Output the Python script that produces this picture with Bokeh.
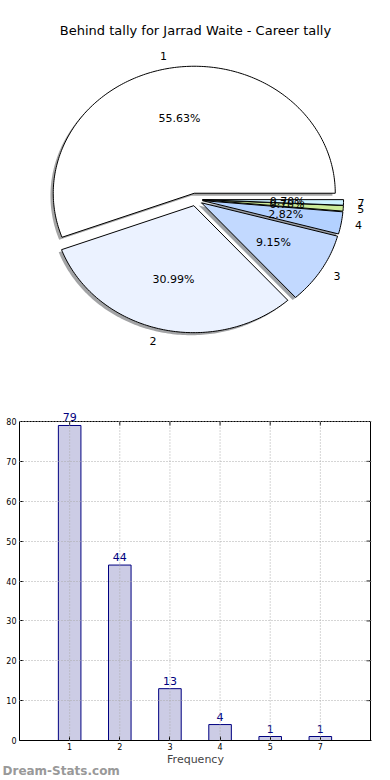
import numpy as np
from bokeh.plotting import figure
from bokeh.models import Range1d, FixedTicker, ColumnDataSource, LabelSet, Title
from bokeh.layouts import column
from bokeh.embed import file_html
from bokeh.resources import INLINE
from bokeh.core.properties import value

# ---------------- data ----------------
chart_title = "Behind tally for Jarrad Waite - Career tally"
freq_labels = ["1", "2", "3", "4", "5", "7"]
counts = [79, 44, 13, 4, 1, 1]
slice_colors = ["#FFFFFF", "#EBF2FF", "#C2D9FF", "#B3D1FF", "#CCEB99", "#CCF2FF"]
bar_fill = "#CCCCE5"
bar_line = "#000080"
y_ticks = [0, 10, 20, 30, 40, 50, 60, 70, 80]
watermark = "Dream-Stats.com"

FONT = "DejaVu Sans"

# shared horizontal geometry (column aligns the two frames)
LEFT, FRAME_W, RIGHT = 19, 352, 19

# ---------------- pie ----------------
cnt = np.array(counts, dtype=float)
frac = cnt / cnt.sum()
ends = np.cumsum(frac) * 2 * np.pi
starts = ends - frac * 2 * np.pi
mids = (starts + ends) / 2
explode = 0.05
sh_dx, sh_dy = -0.02, -0.02

wx, wy = [], []
for s, e, m in zip(starts, ends, mids):
    cx, cy = explode * np.cos(m), explode * np.sin(m)
    n = max(int(np.degrees(e - s)), 2) + 1
    t = np.linspace(s, e, n)
    wx.append(list(np.concatenate([[cx], cx + np.cos(t), [cx]])))
    wy.append(list(np.concatenate([[cy], cy + np.sin(t), [cy]])))


def shade(c):
    c = c.lstrip("#")
    r, g, b = (int(c[i:i + 2], 16) for i in (0, 2, 4))
    return "#%02x%02x%02x" % (int(r * 0.3), int(g * 0.3), int(b * 0.3))


RX, RY, CX, CY, PIE_H = 141.0, 127.0, 195.0, 199.0, 388
p1 = figure(frame_width=FRAME_W, frame_height=PIE_H,
            x_range=Range1d((LEFT - CX) / RX, (LEFT + FRAME_W - CX) / RX),
            y_range=Range1d(-(PIE_H - CY) / RY, CY / RY),
            x_axis_type=None, y_axis_type=None,
            toolbar_location=None, output_backend="svg",
            min_border_left=LEFT, min_border_right=RIGHT, min_border_top=0, min_border_bottom=0,
            outline_line_color=None)

p1.patches(xs=[[x + sh_dx for x in xx] for xx in wx],
           ys=[[y + sh_dy for y in yy] for yy in wy],
           fill_color=[shade(c) for c in slice_colors], fill_alpha=0.5, line_color=None)
p1.patches(xs=wx, ys=wy, fill_color=slice_colors, line_color="black", line_width=1)

lab_x = (explode + 1.1) * np.cos(mids)
lab_y = (explode + 1.1) * np.sin(mids)
aligns = ["left" if x > 0 else "right" for x in lab_x]
p1.text(x=list(lab_x), y=list(lab_y), text=freq_labels, text_align=aligns,
        text_baseline="middle", text_font=value(FONT), text_font_size="11px", text_color="black")

pct_x = (explode + 0.6) * np.cos(mids)
pct_y = (explode + 0.6) * np.sin(mids)
pct_txt = ["%.2f%%" % (f * 100) for f in frac]
p1.text(x=list(pct_x), y=list(pct_y), text=pct_txt, text_align="center",
        text_baseline="middle", text_font=value(FONT), text_font_size="11px", text_color="black")

p1.text(x=[0], y=[(CY - 30) / RY], text=[chart_title], text_align="center", text_baseline="middle",
        text_font=value(FONT), text_font_size="13px", text_color="black")

# ---------------- bars ----------------
x_pos = list(range(1, len(counts) + 1))
x_end = len(counts) + 1
y_top = y_ticks[-1]
src = ColumnDataSource(dict(x=x_pos, count=counts, label=[str(c) for c in counts]))

PX_PER_Y = 319 / y_top
PX_PER_X = 351 / x_end
pad_px = 14
p2 = figure(frame_width=FRAME_W, frame_height=319 + pad_px,
            x_range=Range1d(0, FRAME_W / PX_PER_X), y_range=Range1d(0, y_top + pad_px / PX_PER_Y),
            toolbar_location=None, output_backend="svg",
            min_border_left=LEFT, min_border_right=RIGHT, min_border_top=19, min_border_bottom=36,
            outline_line_color=None)

# grid (dotted, drawn above bars as in the reference)
p2.xgrid.visible = False
p2.ygrid.ticker = FixedTicker(ticks=y_ticks)
p2.ygrid.grid_line_dash = "1 2"
p2.ygrid.grid_line_color = "#aaaaaa"
p2.ygrid.level = "overlay"

p2.vbar(x="x", top="count", width=0.45, source=src,
        fill_color=bar_fill, line_color=bar_line, line_width=1)

p2.segment(x0=x_pos, y0=[0] * len(x_pos), x1=x_pos, y1=[y_top] * len(x_pos),
           line_color="#aaaaaa", line_dash="1 2", line_width=1, level="overlay")

# frame top & right edges and inward ticks there
p2.segment(x0=[0], y0=[y_top], x1=[x_end], y1=[y_top], line_color="black", line_width=1)
p2.segment(x0=[x_end], y0=[0], x1=[x_end], y1=[y_top], line_color="black", line_width=1)
p2.ray(x=x_pos, y=[y_top] * len(x_pos), length=4, length_units="screen",
       angle=-np.pi / 2, line_color="black")
p2.ray(x=[x_end] * len(y_ticks), y=y_ticks, length=4, length_units="screen",
       angle=np.pi, line_color="black")

p2.add_layout(LabelSet(x="x", y="count", text="label", source=src, y_offset=4,
                       text_align="center", text_baseline="bottom",
                       text_font=value(FONT), text_font_size="11px", text_color=bar_line))

p2.xaxis.ticker = FixedTicker(ticks=x_pos)
p2.xaxis.major_label_overrides = {x: l for x, l in zip(x_pos, freq_labels)}
p2.yaxis.ticker = FixedTicker(ticks=y_ticks)
p2.yaxis.bounds = (0, y_top)
for ax in (p2.xaxis[0], p2.yaxis[0]):
    ax.major_tick_in = 4
    ax.major_tick_out = 0
    ax.minor_tick_line_color = None
    ax.major_label_text_font = FONT
    ax.major_label_text_font_size = "8px"
    ax.major_label_text_color = "black"
    ax.major_label_standoff = 3
    ax.axis_line_color = "black"
    ax.major_tick_line_color = "black"
p2.xaxis.major_label_standoff = 2
p2.xaxis.axis_label = "Frequency"
p2.xaxis.axis_label_text_font = FONT
p2.xaxis.axis_label_text_font_size = "11px"
p2.xaxis.axis_label_text_font_style = "normal"
p2.xaxis.axis_label_standoff = 0

# watermark under the chart, bottom-left of the page
p2.add_layout(Title(text=watermark, align="left", offset=-(LEFT - 2), standoff=-14,
                    text_font=FONT, text_font_size="12px", text_font_style="bold",
                    text_color="#999999"), "below")

layout = column(p1, p2, spacing=0)
open("out.html", "w").write(file_html(layout, INLINE))
